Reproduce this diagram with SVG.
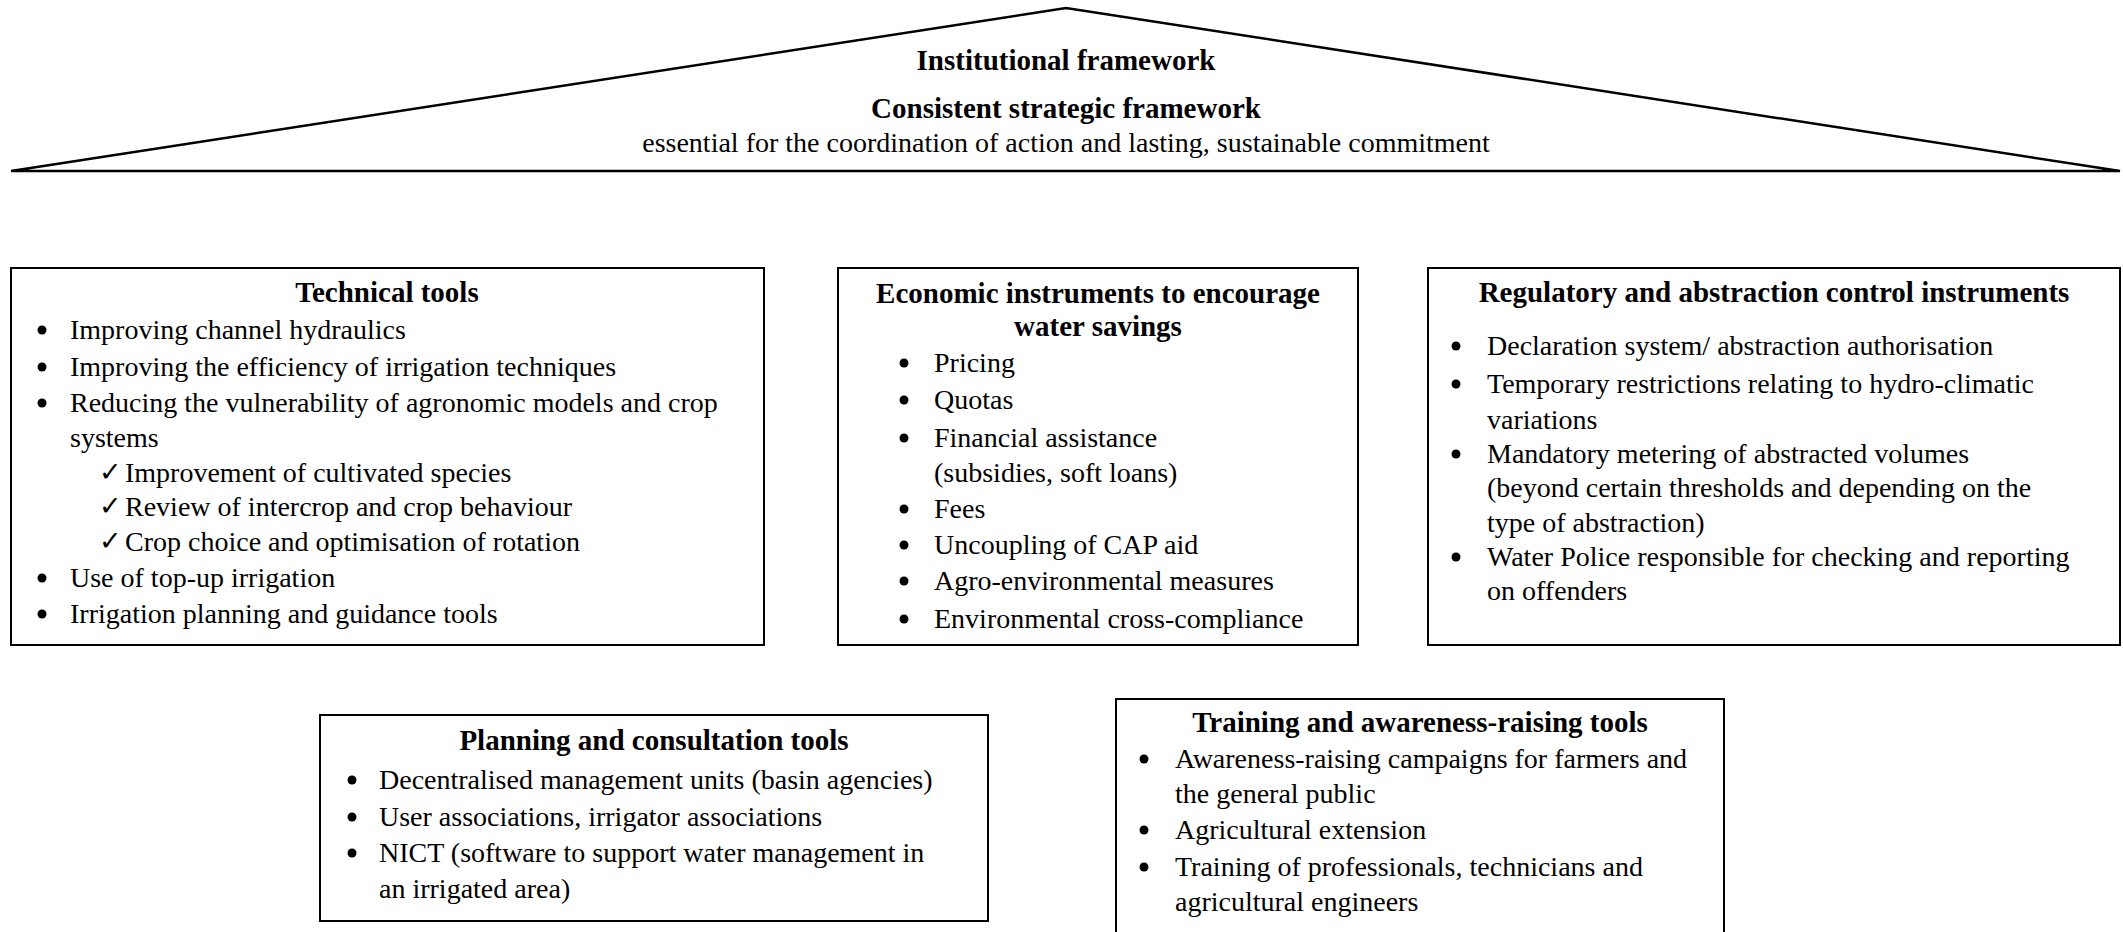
<svg xmlns="http://www.w3.org/2000/svg" width="2123" height="932" viewBox="0 0 2123 932">
  <style>
    text { font-family: "Liberation Serif", "Times New Roman", serif; font-size: 28px; fill: #000; }
    .h { font-weight: bold; text-anchor: middle; font-size: 29px; }
    .c { text-anchor: middle; }
    .box { fill: #fff; stroke: #000; stroke-width: 2; }
    .roof { fill: #fff; stroke: #000; stroke-width: 2.5; stroke-linejoin: miter; }
    .dot { fill: #000; }
    .chk { font-family: "DejaVu Sans", sans-serif; font-size: 27px; }
  </style>

  <!-- roof: institutional framework -->
  <g id="institutional-framework">
    <polygon class="roof" points="11,171 1066,8 2120,171"/>
    <text class="h" x="1066" y="70">Institutional framework</text>
    <text class="h" x="1066" y="118">Consistent strategic framework</text>
    <text class="c" x="1066" y="152">essential for the coordination of action and lasting, sustainable commitment</text>
  </g>

  <!-- technical tools -->
  <g id="technical-tools">
    <rect class="box" x="11" y="268" width="753" height="377"/>
    <text class="h" x="387" y="302">Technical tools</text>
    <circle class="dot" cx="42" cy="330" r="4.5"/>
    <text x="70" y="339">Improving channel hydraulics</text>
    <circle class="dot" cx="42" cy="367" r="4.5"/>
    <text x="70" y="376">Improving the efficiency of irrigation techniques</text>
    <circle class="dot" cx="42" cy="403" r="4.5"/>
    <text x="70" y="412">Reducing the vulnerability of agronomic models and crop</text>
    <text x="70" y="447">systems</text>
    <text class="chk" x="99" y="481">✓</text>
    <text x="125" y="482">Improvement of cultivated species</text>
    <text class="chk" x="99" y="515">✓</text>
    <text x="125" y="516">Review of intercrop and crop behaviour</text>
    <text class="chk" x="99" y="550">✓</text>
    <text x="125" y="551">Crop choice and optimisation of rotation</text>
    <circle class="dot" cx="42" cy="578" r="4.5"/>
    <text x="70" y="587">Use of top-up irrigation</text>
    <circle class="dot" cx="42" cy="614" r="4.5"/>
    <text x="70" y="623">Irrigation planning and guidance tools</text>
  </g>

  <!-- economic instruments -->
  <g id="economic-instruments">
    <rect class="box" x="838" y="268" width="520" height="377"/>
    <text class="h" x="1098" y="303">Economic instruments to encourage</text>
    <text class="h" x="1098" y="336">water savings</text>
    <circle class="dot" cx="904" cy="363" r="4.5"/>
    <text x="934" y="372">Pricing</text>
    <circle class="dot" cx="904" cy="400" r="4.5"/>
    <text x="934" y="409">Quotas</text>
    <circle class="dot" cx="904" cy="438" r="4.5"/>
    <text x="934" y="447">Financial assistance</text>
    <text x="934" y="482">(subsidies, soft loans)</text>
    <circle class="dot" cx="904" cy="509" r="4.5"/>
    <text x="934" y="518">Fees</text>
    <circle class="dot" cx="904" cy="545" r="4.5"/>
    <text x="934" y="554">Uncoupling of CAP aid</text>
    <circle class="dot" cx="904" cy="581" r="4.5"/>
    <text x="934" y="590">Agro-environmental measures</text>
    <circle class="dot" cx="904" cy="619" r="4.5"/>
    <text x="934" y="628">Environmental cross-compliance</text>
  </g>

  <!-- regulatory instruments -->
  <g id="regulatory-instruments">
    <rect class="box" x="1428" y="268" width="692" height="377"/>
    <text class="h" x="1774" y="302">Regulatory and abstraction control instruments</text>
    <circle class="dot" cx="1456" cy="346" r="4.5"/>
    <text x="1487" y="355">Declaration system/ abstraction authorisation</text>
    <circle class="dot" cx="1456" cy="384" r="4.5"/>
    <text x="1487" y="393">Temporary restrictions relating to hydro-climatic</text>
    <text x="1487" y="429">variations</text>
    <circle class="dot" cx="1456" cy="454" r="4.5"/>
    <text x="1487" y="463">Mandatory metering of abstracted volumes</text>
    <text x="1487" y="497">(beyond certain thresholds and depending on the</text>
    <text x="1487" y="532">type of abstraction)</text>
    <circle class="dot" cx="1456" cy="557" r="4.5"/>
    <text x="1487" y="566">Water Police responsible for checking and reporting</text>
    <text x="1487" y="600">on offenders</text>
  </g>

  <!-- planning and consultation tools -->
  <g id="planning-tools">
    <rect class="box" x="320" y="715" width="668" height="206"/>
    <text class="h" x="654" y="750">Planning and consultation tools</text>
    <circle class="dot" cx="352" cy="780" r="4.5"/>
    <text x="379" y="789">Decentralised management units (basin agencies)</text>
    <circle class="dot" cx="352" cy="817" r="4.5"/>
    <text x="379" y="826">User associations, irrigator associations</text>
    <circle class="dot" cx="352" cy="853" r="4.5"/>
    <text x="379" y="862">NICT (software to support water management in</text>
    <text x="379" y="898">an irrigated area)</text>
  </g>

  <!-- training and awareness-raising tools (runs past the bottom edge) -->
  <g id="training-tools">
    <path class="box" d="M1116,940 V699 H1724 V940"/>
    <text class="h" x="1420" y="732">Training and awareness-raising tools</text>
    <circle class="dot" cx="1144" cy="759" r="4.5"/>
    <text x="1175" y="768">Awareness-raising campaigns for farmers and</text>
    <text x="1175" y="803">the general public</text>
    <circle class="dot" cx="1144" cy="830" r="4.5"/>
    <text x="1175" y="839">Agricultural extension</text>
    <circle class="dot" cx="1144" cy="867" r="4.5"/>
    <text x="1175" y="876">Training of professionals, technicians and</text>
    <text x="1175" y="911">agricultural engineers</text>
  </g>

  <!-- no connectors between the blocks -->
  <g id="connectors"/>
</svg>
